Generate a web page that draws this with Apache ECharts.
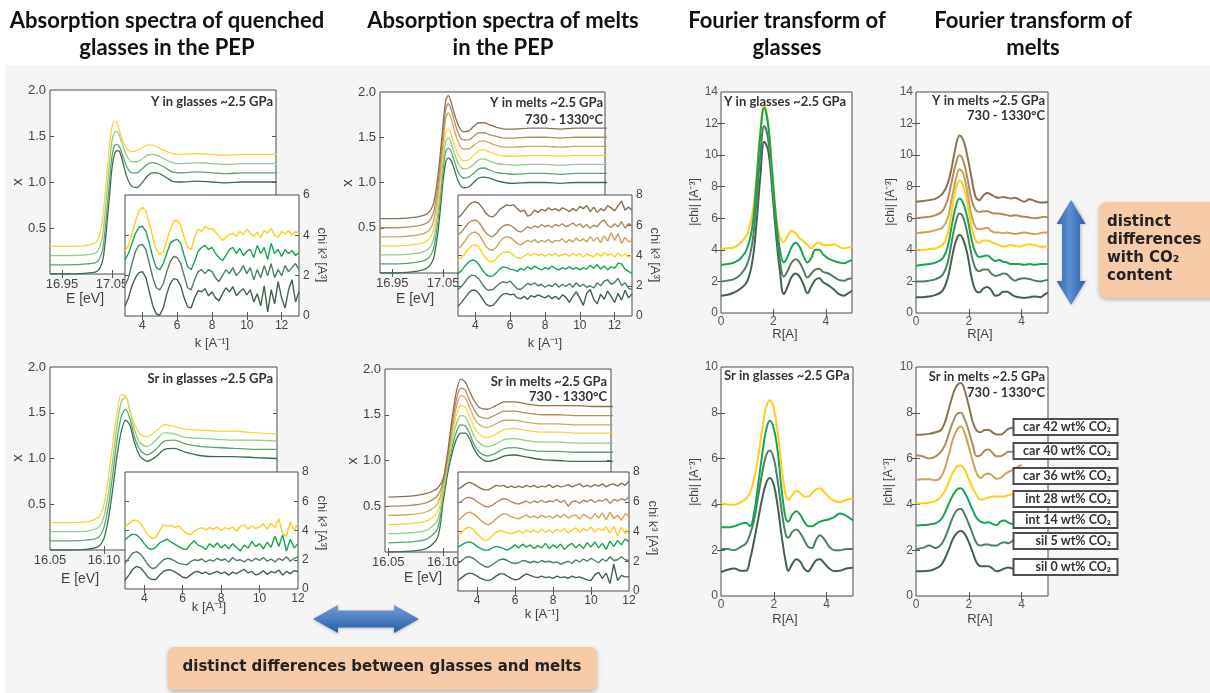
<!DOCTYPE html>
<html>
<head>
<meta charset="utf-8">
<script src="https://cdn.jsdelivr.net/npm/echarts@6.0.0/dist/echarts.min.js"></script>
<style>
html,body{margin:0;padding:0;background:#fff;}
#bg{position:absolute;left:5px;top:65px;width:1205px;height:628px;background:#f5f5f5;}
#chart{position:absolute;left:0;top:0;width:1210px;height:693px;}
</style>
</head>
<body>
<div id="bg"></div>
<div id="chart"></div>
<script>
// ---------------- DATA ----------------
// energy grids (keV, labelled eV in the figure)
const eY = [16.926,16.96,17.0,17.02,17.03,17.035,17.04,17.045,17.05,17.055,17.06,17.065,17.07,17.08,17.09,17.10,17.11,17.12,17.13,17.14,17.155,17.17,17.19,17.22,17.25,17.28,17.31,17.34,17.38];
const eSr = [16.05,16.07,16.085,16.095,16.10,16.104,16.108,16.112,16.116,16.12,16.124,16.128,16.133,16.14,16.148,16.156,16.165,16.175,16.19,16.205,16.22,16.24,16.26];
// k grids
const kY = [3.0,3.2,3.4,3.6,3.8,4.0,4.2,4.4,4.6,4.8,5.0,5.2,5.4,5.6,5.8,6.0,6.2,6.4,6.6,6.8,7.0,7.2,7.4,7.6,7.8,8.0,8.2,8.4,8.6,8.8,9.0,9.2,9.4,9.6,9.8,10.0,10.2,10.4,10.6,10.8,11.0,11.2,11.4,11.6,11.8,12.0,12.2,12.4,12.6,12.8,13.0];
const kSr = [3.0,3.2,3.4,3.6,3.8,4.0,4.2,4.4,4.6,4.8,5.0,5.2,5.4,5.6,5.8,6.0,6.2,6.4,6.6,6.8,7.0,7.2,7.4,7.6,7.8,8.0,8.2,8.4,8.6,8.8,9.0,9.2,9.4,9.6,9.8,10.0,10.2,10.4,10.6,10.8,11.0,11.2,11.4,11.6,11.8,12.0];
// R grids
const rY = [0,0.25,0.5,0.75,1.0,1.2,1.35,1.5,1.65,1.8,1.95,2.1,2.25,2.4,2.55,2.7,2.85,3.0,3.15,3.3,3.45,3.6,3.75,3.9,4.1,4.3,4.5,4.7,4.85,5.0];
const rSrG = [0,0.25,0.5,0.75,0.95,1.1,1.25,1.4,1.55,1.7,1.85,2.0,2.15,2.3,2.45,2.55,2.7,2.85,3.0,3.15,3.3,3.45,3.6,3.75,3.9,4.1,4.3,4.5,4.75,5.0];
const rSrM = [0,0.25,0.5,0.75,0.95,1.1,1.25,1.4,1.55,1.7,1.85,2.0,2.15,2.3,2.45,2.6,2.75,2.9,3.05,3.2,3.35,3.5,3.65,3.8,3.9,4.0];

// Y glasses XANES
const yGX_int28 = [0.30,0.30,0.31,0.36,0.55,0.80,1.10,1.40,1.60,1.66,1.64,1.56,1.47,1.36,1.33,1.34,1.37,1.40,1.40,1.38,1.34,1.31,1.30,1.31,1.30,1.29,1.30,1.30,1.30];
const yGX_int14 = [0.20,0.20,0.21,0.24,0.38,0.60,0.90,1.20,1.45,1.54,1.55,1.50,1.42,1.28,1.22,1.22,1.25,1.29,1.30,1.29,1.25,1.21,1.20,1.21,1.20,1.19,1.20,1.20,1.20];
const yGX_sil5 = [0.10,0.10,0.11,0.13,0.24,0.42,0.70,1.00,1.28,1.39,1.41,1.38,1.31,1.16,1.10,1.10,1.14,1.19,1.21,1.20,1.16,1.11,1.10,1.11,1.10,1.09,1.10,1.10,1.10];
const yGX_sil0 = [0.00,0.00,0.01,0.03,0.12,0.28,0.55,0.85,1.15,1.30,1.34,1.33,1.25,1.05,0.95,0.94,0.99,1.06,1.10,1.10,1.06,1.01,1.00,1.01,1.00,0.99,1.00,1.00,1.00];
// Y glasses EXAFS chi*k^3
const yGK_int28 = [3.2,3.5,4.1,4.7,5.2,5.4,5.2,4.6,3.9,3.3,3.05,3.2,3.7,4.3,4.7,4.75,4.5,3.9,3.4,3.3,3.9,4.3,4.2,4.45,4.3,4.35,4.15,3.95,3.75,3.9,4.05,4.1,3.95,4.2,4.05,4.3,4.1,3.95,4.15,3.9,4.25,4.1,4.35,4.0,3.9,4.2,4.05,4.25,4.0,4.2,4.1];
const yGK_int14 = [2.8,3.1,3.6,4.1,4.4,4.45,4.2,3.6,2.9,2.4,2.3,2.6,3.1,3.6,3.75,3.8,3.6,3.0,2.45,2.3,2.7,3.2,3.4,3.5,3.3,3.4,3.1,2.9,2.75,3.0,3.3,3.4,3.1,3.35,3.0,3.2,3.3,2.9,3.5,3.1,3.4,2.8,3.6,3.1,3.3,2.95,3.3,3.1,3.25,3.0,3.15];
const yGK_sil5 = [1.5,1.9,2.6,3.2,3.5,3.55,3.3,2.6,1.9,1.4,1.3,1.6,2.2,2.7,2.95,2.9,2.6,2.0,1.4,1.3,1.8,2.2,2.3,2.1,2.3,2.2,1.9,1.7,2.0,2.3,2.1,2.4,2.0,2.2,2.5,2.1,2.4,1.8,2.3,1.9,2.5,2.0,2.6,1.9,2.3,2.0,2.5,2.2,2.4,2.6,2.3];
const yGK_sil0 = [0.5,0.9,1.5,1.9,2.15,2.2,1.9,1.2,0.5,0.1,0.05,0.4,1.1,1.6,1.85,1.8,1.5,0.9,0.45,0.4,0.9,1.25,1.2,1.35,1.0,1.2,0.9,0.75,1.1,1.4,1.2,1.45,1.0,1.2,1.35,1.05,1.3,0.7,1.1,0.5,1.5,0.2,1.3,0.6,1.7,0.9,0.4,1.3,1.8,0.7,1.2];
// Y melts XANES
const yMX_car42 = [0.60,0.60,0.62,0.66,0.75,0.88,1.08,1.35,1.65,1.90,1.96,1.90,1.80,1.63,1.56,1.57,1.62,1.66,1.66,1.64,1.61,1.59,1.59,1.60,1.60,1.59,1.60,1.60,1.60];
const yMX_car40 = [0.50,0.50,0.52,0.56,0.65,0.78,0.98,1.25,1.55,1.80,1.87,1.82,1.72,1.54,1.47,1.47,1.51,1.55,1.55,1.53,1.51,1.49,1.49,1.50,1.50,1.49,1.50,1.50,1.50];
const yMX_car36 = [0.40,0.40,0.42,0.46,0.55,0.68,0.88,1.15,1.45,1.70,1.77,1.72,1.62,1.44,1.37,1.37,1.41,1.45,1.46,1.44,1.41,1.39,1.39,1.40,1.40,1.39,1.40,1.40,1.40];
const yMX_int28 = [0.30,0.30,0.32,0.36,0.45,0.58,0.78,1.05,1.35,1.55,1.59,1.54,1.45,1.30,1.24,1.25,1.30,1.35,1.36,1.34,1.31,1.29,1.29,1.30,1.30,1.29,1.30,1.30,1.30];
const yMX_int14 = [0.20,0.20,0.22,0.26,0.35,0.48,0.68,0.95,1.25,1.45,1.49,1.45,1.36,1.21,1.15,1.16,1.20,1.25,1.26,1.24,1.21,1.20,1.19,1.20,1.20,1.19,1.20,1.20,1.20];
const yMX_sil5 = [0.10,0.10,0.12,0.16,0.25,0.38,0.58,0.85,1.14,1.34,1.38,1.35,1.27,1.11,1.05,1.06,1.10,1.15,1.16,1.14,1.11,1.10,1.09,1.10,1.10,1.09,1.10,1.10,1.10];
const yMX_sil0 = [0.00,0.00,0.02,0.06,0.14,0.27,0.46,0.73,1.02,1.22,1.27,1.25,1.18,1.01,0.94,0.95,1.00,1.05,1.06,1.05,1.02,1.00,0.99,1.00,1.00,0.99,1.00,1.00,1.00];
// Y melts EXAFS
const yMK_car42 = [6.5,6.7,7.0,7.3,7.5,7.55,7.45,7.15,6.8,6.6,6.55,6.75,7.05,7.2,7.35,7.3,7.35,7.1,6.9,7.0,6.6,6.7,7.0,6.85,7.05,6.95,7.15,7.0,7.1,6.95,7.15,7.05,6.9,7.1,6.95,7.25,7.1,7.3,6.9,7.2,6.85,7.1,6.95,7.3,7.15,6.95,7.3,7.6,7.0,7.2,7.0];
const yMK_car40 = [5.35,5.55,5.85,6.15,6.3,6.35,6.2,5.85,5.5,5.3,5.25,5.45,5.75,5.95,6.05,6.0,5.85,5.65,5.55,5.7,5.9,5.8,5.95,5.85,6.05,5.9,6.0,5.85,6.05,5.95,6.1,5.9,6.0,6.15,5.95,6.1,5.85,6.05,5.8,6.0,5.9,6.2,6.35,6.0,5.85,6.1,5.9,6.25,5.8,6.1,6.0];
const yMK_car36 = [4.45,4.65,4.95,5.3,5.5,5.55,5.4,5.0,4.6,4.4,4.35,4.55,4.9,5.15,5.25,5.2,5.0,4.8,4.7,4.85,5.0,4.9,5.05,4.85,5.0,4.9,5.05,4.85,5.0,4.95,5.1,4.85,5.05,4.9,5.15,4.95,5.1,4.9,5.25,4.95,5.2,4.85,5.3,4.95,5.5,5.0,5.45,4.8,5.2,4.9,5.0];
const yMK_int28 = [3.7,3.85,4.1,4.45,4.65,4.7,4.55,4.15,3.8,3.6,3.6,3.8,4.05,4.2,4.25,4.2,4.0,3.85,3.8,3.95,4.1,4.0,4.15,4.0,4.1,3.95,4.1,4.0,4.15,3.95,4.05,4.1,3.95,4.15,4.0,4.1,3.9,4.1,4.0,3.9,4.15,3.95,4.2,4.0,4.1,3.9,4.15,3.95,4.1,3.9,4.05];
const yMK_int14 = [2.8,3.0,3.3,3.55,3.7,3.65,3.4,3.05,2.75,2.6,2.65,2.85,3.1,3.25,3.2,3.1,3.05,2.95,3.15,3.05,3.25,3.1,3.3,3.15,3.05,3.2,3.1,3.3,3.15,3.05,3.2,3.1,3.25,3.1,3.2,3.05,3.2,3.1,3.35,3.15,3.4,3.1,3.3,3.05,3.25,3.15,3.5,3.45,3.1,2.95,2.8];
const yMK_sil5 = [1.75,1.95,2.25,2.55,2.7,2.65,2.45,2.1,1.8,1.7,1.75,1.95,2.15,2.25,2.2,2.3,2.05,1.8,1.75,1.95,2.15,2.05,2.2,2.0,2.1,1.9,2.05,1.95,2.15,1.9,2.1,1.95,2.15,1.9,2.2,1.95,2.1,1.9,2.0,1.85,2.2,2.0,2.3,2.4,2.1,2.2,2.5,2.0,2.2,1.85,1.75];
const yMK_sil0 = [0.65,0.9,1.2,1.5,1.7,1.7,1.5,1.15,0.8,0.65,0.7,0.95,1.25,1.45,1.5,1.4,1.45,1.2,1.15,1.3,1.1,1.35,1.25,1.4,1.3,1.2,1.35,1.15,1.3,1.1,1.4,1.25,0.9,1.3,1.6,1.2,0.7,1.5,1.75,1.1,0.8,1.45,1.1,1.65,1.3,0.9,1.5,1.05,1.7,1.2,1.45];
// Y glasses FT
const yGF_int28 = [4.05,4.1,4.15,4.45,5.0,6.3,8.6,11.6,13.2,12.0,9.0,6.3,4.8,4.5,4.9,5.2,5.05,4.75,4.55,4.3,4.1,4.35,4.45,4.3,4.3,4.35,4.2,4.1,4.15,4.2];
const yGF_int14 = [3.05,3.1,3.2,3.45,4.1,5.5,8.2,11.3,13.0,11.9,9.0,6.0,4.0,3.2,3.6,4.2,4.45,4.2,3.6,3.2,3.5,4.0,4.0,3.7,3.45,3.3,3.2,3.15,3.25,3.35];
const yGF_sil5 = [2.0,2.05,2.15,2.45,3.1,4.5,7.0,10.0,11.85,11.0,8.4,5.5,3.3,2.3,2.7,3.2,3.4,3.2,2.7,2.25,2.5,2.75,2.8,2.6,2.5,2.3,2.1,2.05,2.15,2.2];
const yGF_sil0 = [1.1,1.15,1.3,1.55,2.0,3.3,5.6,8.6,10.85,10.3,7.9,5.0,2.6,1.2,1.7,2.3,2.5,2.3,1.8,1.25,1.7,2.1,2.2,1.95,1.75,1.5,1.2,1.1,1.25,1.4];
// Y melts FT
const yMF_car42 = [7.05,7.1,7.15,7.25,7.55,8.2,9.2,10.5,11.25,10.9,9.9,8.6,7.4,7.15,7.45,7.6,7.5,7.35,7.3,7.35,7.3,7.25,7.3,7.2,7.05,7.2,7.1,7.0,7.0,7.05];
const yMF_car40 = [6.0,6.05,6.1,6.2,6.45,7.2,8.3,9.4,10.0,9.6,8.5,7.2,6.55,6.4,6.45,6.45,6.35,6.3,6.3,6.25,6.2,6.15,6.2,6.15,6.1,6.05,6.0,6.05,6.1,6.05];
const yMF_car36 = [5.05,5.1,5.15,5.25,5.4,6.0,7.2,8.4,9.1,8.8,7.6,6.2,5.45,5.3,5.35,5.4,5.2,5.1,5.1,5.05,5.1,5.05,5.0,5.05,5.1,5.05,5.0,5.05,5.1,5.1];
const yMF_int28 = [4.0,4.0,4.05,4.1,4.3,5.0,6.4,7.8,8.4,8.0,6.9,5.5,4.6,4.45,4.6,4.6,4.5,4.4,4.3,4.2,4.25,4.3,4.25,4.2,4.3,4.35,4.3,4.2,4.2,4.25];
const yMF_int14 = [3.0,3.05,3.1,3.2,3.45,4.2,5.5,6.7,7.25,6.9,6.0,4.7,3.85,3.55,3.6,3.65,3.45,3.3,3.35,3.25,3.2,3.1,3.1,3.1,3.05,3.1,3.05,3.1,3.1,3.1];
const yMF_sil5 = [2.0,2.0,2.05,2.15,2.4,3.2,4.5,5.7,6.3,6.0,5.0,3.7,2.85,2.65,2.75,2.75,2.5,2.35,2.4,2.5,2.45,2.2,2.05,2.15,2.2,2.15,2.05,2.0,2.05,2.1];
const yMF_sil0 = [1.0,1.0,1.05,1.15,1.4,2.2,3.4,4.5,4.95,4.6,3.7,2.3,1.45,1.3,1.55,1.65,1.45,1.1,1.15,1.35,1.35,1.2,1.05,1.0,0.95,1.0,1.05,1.0,1.15,1.3];
// Sr glasses XANES
const srGX_int28 = [0.30,0.30,0.31,0.36,0.50,0.80,1.15,1.50,1.70,1.68,1.52,1.38,1.27,1.24,1.30,1.37,1.35,1.32,1.31,1.30,1.30,1.28,1.27];
const srGX_int14 = [0.20,0.20,0.21,0.25,0.37,0.62,0.98,1.36,1.62,1.67,1.52,1.32,1.18,1.13,1.20,1.28,1.27,1.23,1.22,1.21,1.20,1.20,1.19];
const srGX_sil5 = [0.10,0.10,0.11,0.14,0.25,0.48,0.82,1.20,1.46,1.54,1.43,1.24,1.10,1.04,1.10,1.19,1.20,1.16,1.13,1.12,1.11,1.10,1.10];
const srGX_sil0 = [0.00,0.00,0.01,0.04,0.13,0.34,0.66,1.03,1.30,1.42,1.36,1.18,1.03,0.97,1.02,1.10,1.11,1.07,1.03,1.02,1.02,1.01,1.00];
// Sr glasses EXAFS
const srGK_int28 = [4.25,4.45,4.7,4.7,4.5,4.1,3.7,3.45,3.5,4.0,4.4,4.3,4.35,4.2,4.3,4.05,3.8,3.7,3.95,4.1,4.2,4.05,4.2,4.1,4.25,4.0,4.2,4.1,4.25,3.95,4.3,4.4,4.1,4.3,4.15,4.25,4.45,4.1,4.5,4.2,4.8,3.8,3.6,4.6,4.0,4.5];
const srGK_int14 = [3.35,3.6,3.75,3.7,3.45,3.1,2.8,2.7,2.85,3.15,3.3,3.4,3.2,3.05,2.9,2.75,2.7,3.05,3.3,3.0,2.9,2.7,3.1,2.85,3.15,2.8,3.05,2.75,3.1,2.85,2.6,3.0,2.8,3.25,2.9,3.1,2.75,3.2,2.85,3.6,2.9,3.7,2.6,3.4,2.8,3.1];
const srGK_sil5 = [1.75,2.1,2.45,2.55,2.4,2.05,1.65,1.4,1.45,1.75,2.0,2.1,2.05,1.9,1.75,1.7,1.65,1.85,2.0,1.95,2.05,1.85,2.0,1.9,2.1,1.95,2.05,1.85,2.15,1.95,2.0,1.85,2.05,1.9,2.1,1.95,2.15,1.9,2.05,1.85,2.1,1.95,2.2,1.9,2.1,2.2];
const srGK_sil0 = [0.6,0.95,1.35,1.55,1.45,1.15,0.8,0.65,0.65,0.95,1.2,1.3,1.3,1.15,1.0,0.8,0.75,0.95,1.15,1.2,1.05,1.15,1.0,1.1,1.2,1.05,1.15,0.95,1.15,1.05,1.2,1.35,1.1,1.2,0.95,1.05,1.25,1.0,1.2,1.1,1.3,0.95,1.2,1.05,1.25,1.2];
// Sr melts XANES
const srMX_car42 = [0.60,0.61,0.64,0.70,0.80,1.08,1.45,1.75,1.89,1.86,1.76,1.66,1.58,1.56,1.60,1.64,1.64,1.62,1.60,1.60,1.60,1.59,1.59];
const srMX_car40 = [0.50,0.51,0.54,0.62,0.77,1.04,1.38,1.66,1.79,1.77,1.66,1.56,1.48,1.46,1.50,1.54,1.54,1.52,1.50,1.50,1.49,1.49,1.49];
const srMX_car36 = [0.40,0.41,0.44,0.53,0.74,1.00,1.32,1.58,1.71,1.69,1.58,1.47,1.39,1.36,1.40,1.44,1.44,1.42,1.40,1.40,1.39,1.39,1.39];
const srMX_int28 = [0.30,0.31,0.34,0.44,0.70,0.97,1.26,1.49,1.60,1.58,1.48,1.37,1.29,1.25,1.29,1.34,1.35,1.33,1.31,1.31,1.30,1.30,1.30];
const srMX_int14 = [0.20,0.21,0.24,0.35,0.66,0.94,1.20,1.40,1.49,1.48,1.39,1.27,1.19,1.15,1.18,1.23,1.24,1.22,1.20,1.20,1.19,1.19,1.19];
const srMX_sil5 = [0.10,0.11,0.14,0.26,0.62,0.90,1.13,1.31,1.39,1.38,1.30,1.18,1.09,1.05,1.08,1.13,1.14,1.12,1.10,1.10,1.09,1.09,1.09];
const srMX_sil0 = [0.00,0.01,0.04,0.16,0.55,0.85,1.07,1.23,1.30,1.30,1.24,1.13,1.04,0.99,1.01,1.05,1.06,1.04,1.01,1.00,0.99,0.99,0.99];
// Sr melts EXAFS
const srMK_car42 = [6.85,7.0,7.2,7.3,7.2,7.05,6.9,6.8,6.8,6.95,7.1,7.05,7.1,6.95,7.05,6.95,7.05,6.95,7.1,7.0,7.1,6.95,7.05,7.0,7.15,6.95,7.1,7.0,7.05,7.15,7.0,7.1,7.2,7.0,7.1,7.0,7.15,7.05,7.2,7.0,7.15,7.2,7.05,7.25,7.1,7.4];
const srMK_car40 = [5.9,6.05,6.25,6.3,6.2,6.0,5.85,5.7,5.65,5.75,5.95,6.1,6.2,6.15,6.0,5.9,5.85,5.95,6.05,5.9,6.05,5.95,6.1,5.95,6.05,6.0,6.15,5.95,6.1,5.7,6.0,6.05,5.9,6.1,6.0,6.15,5.95,6.1,6.05,6.2,5.9,6.15,6.05,6.2,6.1,6.35];
const srMK_car36 = [4.75,4.95,5.2,5.3,5.2,5.0,4.75,4.55,4.45,4.6,4.85,5.05,5.2,5.15,5.0,4.9,4.85,5.0,5.1,4.95,5.05,4.9,5.1,4.95,5.05,4.9,5.1,4.95,5.15,4.9,5.05,5.1,4.85,5.15,5.0,4.85,5.2,4.9,5.25,4.8,5.3,4.85,5.1,4.75,5.2,5.0];
const srMK_int28 = [3.75,3.95,4.2,4.3,4.15,3.85,3.6,3.4,3.45,3.7,3.95,4.05,4.0,3.9,3.85,3.95,4.05,3.9,4.1,3.95,4.1,3.9,4.15,3.95,4.1,3.9,4.15,4.0,4.2,3.9,4.1,4.25,3.95,4.2,4.05,4.3,3.95,4.2,4.05,4.3,3.9,4.35,3.7,4.3,3.85,4.2];
const srMK_int14 = [2.95,3.1,3.25,3.3,3.2,3.0,2.85,2.75,2.75,2.9,3.0,2.95,2.85,2.75,2.9,3.1,2.9,3.15,2.95,3.1,2.85,3.05,2.9,3.2,2.85,3.1,2.9,3.15,2.8,3.05,3.2,2.9,3.15,2.85,3.25,2.95,3.3,2.9,3.2,2.8,3.35,3.0,3.4,3.1,3.5,3.3];
const srMK_sil5 = [1.85,2.05,2.25,2.3,2.2,2.0,1.8,1.65,1.6,1.75,1.95,2.1,2.15,2.05,1.9,1.85,1.9,2.05,2.0,1.9,2.0,1.9,2.05,1.95,2.0,1.9,1.95,1.8,1.9,2.0,1.85,2.1,1.95,2.15,2.0,2.2,2.05,1.9,2.15,2.0,2.3,2.05,2.1,2.3,2.1,2.05];
const srMK_sil0 = [0.7,0.9,1.1,1.2,1.15,1.0,0.85,0.75,0.7,0.8,1.0,1.15,1.15,1.0,0.85,0.75,0.8,1.0,1.15,1.05,0.95,0.9,1.0,0.9,0.95,0.85,1.0,0.9,0.95,0.85,1.0,0.9,0.95,0.85,0.75,0.7,1.1,1.25,0.85,1.2,0.5,1.8,0.7,1.05,0.95,0.95];
// Sr glasses FT
const srGF_int28 = [4.05,4.0,3.98,4.1,4.25,4.5,5.1,6.0,7.2,8.2,8.55,8.2,7.1,5.6,4.4,4.2,4.4,4.6,4.5,4.35,4.35,4.5,4.65,4.7,4.55,4.3,4.15,4.1,4.2,4.25];
const srGF_int14 = [3.0,3.0,3.05,3.15,3.2,3.05,3.6,4.8,6.1,7.2,7.65,7.3,6.3,4.6,3.4,3.25,3.55,3.7,3.55,3.25,3.05,3.05,3.15,3.25,3.3,3.35,3.45,3.6,3.5,3.3];
const srGF_sil5 = [2.05,2.05,2.0,2.15,2.3,2.7,3.3,4.3,5.3,6.1,6.35,6.0,5.0,3.7,2.7,2.55,2.8,2.9,2.75,2.45,2.15,2.1,2.45,2.65,2.5,2.15,2.0,2.0,2.05,2.05];
const srGF_sil0 = [1.05,1.15,1.2,1.1,1.1,1.6,2.4,3.3,4.2,4.9,5.15,4.85,3.9,2.6,1.5,1.1,1.4,1.6,1.5,1.2,1.08,1.3,1.55,1.6,1.45,1.2,1.08,1.1,1.2,1.23];
// Sr melts FT
const srMF_car42 = [7.04,7.05,7.08,7.15,7.25,7.6,8.2,8.8,9.2,9.3,8.95,8.3,7.6,7.22,7.15,7.25,7.25,7.15,7.05,7.05,7.15,7.3,7.35,7.4,7.45,7.5];
const srMF_car40 = [6.15,6.1,6.0,6.1,6.3,6.6,7.1,7.6,7.95,8.0,7.7,7.2,6.6,6.1,6.15,6.35,6.4,6.25,6.1,6.1,6.2,6.3,6.3,6.25,6.25,6.3];
const srMF_car36 = [5.07,5.1,5.1,5.05,5.2,5.6,6.2,6.85,7.25,7.4,7.1,6.5,5.9,5.35,5.15,5.3,5.35,5.25,5.12,5.15,5.3,5.42,5.5,5.6,5.67,5.72];
const srMF_int28 = [4.04,4.05,4.07,4.15,4.35,4.6,5.0,5.4,5.65,5.7,5.5,5.1,4.7,4.4,4.2,4.25,4.3,4.35,4.35,4.35,4.35,4.4,4.45,4.5,4.55,4.6];
const srMF_int14 = [3.08,3.1,3.12,3.18,3.35,3.65,4.05,4.4,4.65,4.7,4.5,4.15,3.75,3.4,3.25,3.2,3.22,3.15,3.1,3.25,3.3,3.2,3.15,3.25,3.3,3.3];
const srMF_sil5 = [2.04,2.1,2.2,2.1,2.25,2.55,3.0,3.45,3.75,3.8,3.55,3.15,2.7,2.3,2.2,2.25,2.25,2.2,2.2,2.3,2.35,2.3,2.4,2.5,2.55,2.6];
const srMF_sil0 = [1.08,1.08,1.1,1.2,1.35,1.65,2.05,2.5,2.75,2.85,2.7,2.35,1.9,1.45,1.3,1.3,1.3,1.2,1.08,1.12,1.2,1.25,1.2,1.15,1.15,1.2];

// tick labels
const tickXanesY = [0.5,1.0,1.5,2.0];
const tickEY = [16.95,17.05];
const tickESr = [16.05,16.10];
const tickK = [4,6,8,10,12];
const tickR = [0,2,4];
const legendLabels = ['car 42 wt% CO₂','car 40 wt% CO₂','car 36 wt% CO₂','int 28 wt% CO₂','int 14 wt% CO₂','sil 5 wt% CO₂','sil 0 wt% CO₂'];

// ---------------- STYLE / LAYOUT ----------------
const C  = {car42:'#8a7352', car40:'#ad8b5d', car36:'#cfa257', int28:'#ffcd1c', int14:'#14a552', sil5:'#4c8062', sil0:'#41624f'};
const CX = {car42:'#8a7352', car40:'#b28f60', car36:'#d3a660', int28:'#f8d440', int14:'#90cf7f', sil5:'#58a46c', sil0:'#3f6b51'};
const TICKF = 'Liberation Sans, Arial, sans-serif';
const TITLEF = 'Lato, "Open Sans", sans-serif';

const panels = [
 {box:[50,90,226,184], kind:'xanes', xr:[16.926,17.378], xt:[16.95,17.05,17.15,17.25,17.35], xl:tickEY, yr:[0,2], yt:[0.5,1,1.5], yl:tickXanesY},
 {box:[125,195,174,121], kind:'inset', xr:[3,13], xt:tickK, xl:tickK, yr:[0,6], yt:[2,4], yl:[0,2,4,6]},
 {box:[380,92,225,181], kind:'xanes', xr:[16.926,17.368], xt:[16.95,17.05,17.15,17.25,17.35], xl:tickEY, yr:[0,2], yt:[0.5,1,1.5], yl:tickXanesY},
 {box:[458,195,174,121], kind:'inset', xr:[3,13], xt:tickK, xl:tickK, yr:[0,8], yt:[2,4,6], yl:[0,2,4,6,8]},
 {box:[721,92,131,221], kind:'ft', xr:[0,5], xt:[2,4], xl:tickR, yr:[0,14], yt:[2,4,6,8,10,12], yl:[0,2,4,6,8,10,12,14]},
 {box:[916,92,132,221], kind:'ft', xr:[0,5], xt:[2,4], xl:tickR, yr:[0,14], yt:[2,4,6,8,10,12], yl:[0,2,4,6,8,10,12,14]},
 {box:[50,367,227,183], kind:'xanes', xr:[16.05,16.26], xt:[16.10,16.15,16.20,16.25], xl:tickESr, yr:[0,2], yt:[0.5,1,1.5], yl:tickXanesY},
 {box:[125,472,173,117], kind:'inset', xr:[3,12], xt:[4,6,8,10], xl:tickK, yr:[0,8], yt:[2,4,6], yl:[0,2,4,6,8]},
 {box:[385,369,226,183], kind:'xanes', xr:[16.047,16.253], xt:[16.05,16.10,16.15,16.20,16.25], xl:tickESr, yr:[0,2], yt:[0.5,1,1.5], yl:tickXanesY},
 {box:[458,472,171,119], kind:'inset', xr:[3,12], xt:[4,6,8,10], xl:tickK, yr:[0,8], yt:[2,4,6], yl:[0,2,4,6,8]},
 {box:[721,367,132,229], kind:'ft', xr:[0,5], xt:[2,4], xl:tickR, yr:[0,10], yt:[2,4,6,8], yl:[0,2,4,6,8,10]},
 {box:[916,367,132,229], kind:'ft', xr:[0,5], xt:[2,4], xl:tickR, yr:[0,10], yt:[2,4,6,8], yl:[0,2,4,6,8,10]}
];
const labelStyle = {xanes:{fs:13,col:'#444',m:4}, inset:{fs:12,col:'#444',m:4}, ft:{fs:12,col:'#555',m:3}};

const option = {animation:false, backgroundColor:'transparent', grid:[], xAxis:[], yAxis:[], series:[], graphic:[]};

function fmt(kind, dim){
  if (kind==='xanes') return dim==='x' ? (v=>Number(v).toFixed(2)) : (v=>Number(v).toFixed(1));
  return v=>String(Math.round(v));
}
function mkAxis(gi, dim, pos, p, labeled, z){
  const r = dim==='x' ? p.xr : p.yr;
  const st = labelStyle[p.kind];
  return {
    type:'value', gridIndex:gi, position:pos, min:r[0], max:r[1], z:z,
    axisLine:{show:false}, splitLine:{show:false},
    axisTick:{show:true, inside:true, length:4, lineStyle:{color:'#555',width:1}, customValues: dim==='x'?p.xt:p.yt},
    axisLabel: labeled ? {show:true, customValues: dim==='x'?p.xl:p.yl, fontSize:st.fs, color:st.col, fontFamily:TICKF, margin:st.m, formatter:fmt(p.kind,dim)} : {show:false}
  };
}
panels.forEach((p,gi)=>{
  const inset = p.kind==='inset';
  const zg = inset?5:0, za = inset?6:0;
  option.grid.push({left:p.box[0], top:p.box[1], width:p.box[2], height:p.box[3], show:true, backgroundColor:'#fff', borderColor:'#4a4a4a', borderWidth:1, z:zg});
  option.xAxis.push(mkAxis(gi,'x','bottom',p,true,za));
  option.xAxis.push(mkAxis(gi,'x','top',p,false,za));
  option.yAxis.push(mkAxis(gi,'y','left', p, !inset, za));
  option.yAxis.push(mkAxis(gi,'y','right',p, inset, za));
});

function addLine(gi, xs, ys, color, width, smooth){
  const inset = panels[gi].kind==='inset';
  option.series.push({type:'line', xAxisIndex:2*gi, yAxisIndex:2*gi, data:xs.map((v,i)=>[v,ys[i]]),
    symbol:'none', showSymbol:false, smooth:smooth, lineStyle:{color:color,width:width}, itemStyle:{color:color},
    z: inset?7:2, silent:true, clip:true});
}
// P1 Y glasses XANES
addLine(0,eY,yGX_sil0,CX.sil0,1.3,0.3); addLine(0,eY,yGX_sil5,CX.sil5,1.3,0.3); addLine(0,eY,yGX_int14,CX.int14,1.3,0.3); addLine(0,eY,yGX_int28,CX.int28,1.3,0.3);
// I1
addLine(1,kY,yGK_sil0,C.sil0,1.4,false); addLine(1,kY,yGK_sil5,C.sil5,1.4,false); addLine(1,kY,yGK_int14,C.int14,1.4,false); addLine(1,kY,yGK_int28,C.int28,1.4,false);
// P2 Y melts XANES
addLine(2,eY,yMX_sil0,CX.sil0,1.3,0.3); addLine(2,eY,yMX_sil5,CX.sil5,1.3,0.3); addLine(2,eY,yMX_int14,CX.int14,1.3,0.3); addLine(2,eY,yMX_int28,CX.int28,1.3,0.3);
addLine(2,eY,yMX_car36,CX.car36,1.3,0.3); addLine(2,eY,yMX_car40,CX.car40,1.3,0.3); addLine(2,eY,yMX_car42,CX.car42,1.3,0.3);
// I2
addLine(3,kY,yMK_sil0,C.sil0,1.4,false); addLine(3,kY,yMK_sil5,C.sil5,1.4,false); addLine(3,kY,yMK_int14,C.int14,1.4,false); addLine(3,kY,yMK_int28,C.int28,1.4,false);
addLine(3,kY,yMK_car36,C.car36,1.4,false); addLine(3,kY,yMK_car40,C.car40,1.4,false); addLine(3,kY,yMK_car42,C.car42,1.4,false);
// P3 Y glasses FT
addLine(4,rY,yGF_sil0,C.sil0,2,0.4); addLine(4,rY,yGF_sil5,C.sil5,2,0.4); addLine(4,rY,yGF_int28,C.int28,2,0.4); addLine(4,rY,yGF_int14,C.int14,2,0.4);
// P4 Y melts FT
addLine(5,rY,yMF_sil0,C.sil0,2,0.4); addLine(5,rY,yMF_sil5,C.sil5,2,0.4); addLine(5,rY,yMF_int14,C.int14,2,0.4); addLine(5,rY,yMF_int28,C.int28,2,0.4);
addLine(5,rY,yMF_car36,C.car36,2,0.4); addLine(5,rY,yMF_car40,C.car40,2,0.4); addLine(5,rY,yMF_car42,C.car42,2,0.4);
// P5 Sr glasses XANES
addLine(6,eSr,srGX_sil0,CX.sil0,1.3,0.3); addLine(6,eSr,srGX_sil5,CX.sil5,1.3,0.3); addLine(6,eSr,srGX_int14,CX.int14,1.3,0.3); addLine(6,eSr,srGX_int28,CX.int28,1.3,0.3);
// I5
addLine(7,kSr,srGK_sil0,C.sil0,1.4,false); addLine(7,kSr,srGK_sil5,C.sil5,1.4,false); addLine(7,kSr,srGK_int14,C.int14,1.4,false); addLine(7,kSr,srGK_int28,C.int28,1.4,false);
// P6 Sr melts XANES
addLine(8,eSr,srMX_sil0,CX.sil0,1.3,0.3); addLine(8,eSr,srMX_sil5,CX.sil5,1.3,0.3); addLine(8,eSr,srMX_int14,CX.int14,1.3,0.3); addLine(8,eSr,srMX_int28,CX.int28,1.3,0.3);
addLine(8,eSr,srMX_car36,CX.car36,1.3,0.3); addLine(8,eSr,srMX_car40,CX.car40,1.3,0.3); addLine(8,eSr,srMX_car42,CX.car42,1.3,0.3);
// I6
addLine(9,kSr,srMK_sil0,C.sil0,1.4,false); addLine(9,kSr,srMK_sil5,C.sil5,1.4,false); addLine(9,kSr,srMK_int14,C.int14,1.4,false); addLine(9,kSr,srMK_int28,C.int28,1.4,false);
addLine(9,kSr,srMK_car36,C.car36,1.4,false); addLine(9,kSr,srMK_car40,C.car40,1.4,false); addLine(9,kSr,srMK_car42,C.car42,1.4,false);
// P7 Sr glasses FT
addLine(10,rSrG,srGF_sil0,C.sil0,2,0.4); addLine(10,rSrG,srGF_sil5,C.sil5,2,0.4); addLine(10,rSrG,srGF_int14,C.int14,2,0.4); addLine(10,rSrG,srGF_int28,C.int28,2,0.4);
// P8 Sr melts FT
addLine(11,rSrM,srMF_sil0,C.sil0,2,0.4); addLine(11,rSrM,srMF_sil5,C.sil5,2,0.4); addLine(11,rSrM,srMF_int14,C.int14,2,0.4); addLine(11,rSrM,srMF_int28,C.int28,2,0.4);
addLine(11,rSrM,srMF_car36,C.car36,2,0.4); addLine(11,rSrM,srMF_car40,C.car40,2,0.4); addLine(11,rSrM,srMF_car42,C.car42,2,0.4);

// ---------------- TEXT & DECORATIONS ----------------
const G = option.graphic;
function txt(t, x, y, o){
  o = o || {};
  G.push({type:'text', x:x, y:y, rotation:o.rot||0, z:20, silent:true,
    style:{text:t, fill:o.fill||'#333', fontSize:o.fs||12, fontWeight:o.fw||'normal', fontFamily:o.ff||TICKF,
      align:o.al||'center', verticalAlign:'middle', textAlign:o.al||'center', textVerticalAlign:'middle'}});
}
// column headings
[['Absorption spectra of quenched',167,21],['glasses in the PEP',167,48],['Absorption spectra of melts',503,21],['in the PEP',503,48],
 ['Fourier transform of',787,21],['glasses',787,48],['Fourier transform of',1033,21],['melts',1033,48]]
 .forEach(a=>txt(a[0],a[1],a[2],{fs:22,fw:'bold',ff:TITLEF,fill:'#111'}));
// in-panel titles
[['Y in glasses ~2.5 GPa','right',273,102],['Y in melts ~2.5 GPa','right',603,103],['730 - 1330°C','right',603,120],
 ['Y in glasses ~2.5 GPa','left',724,102],['Y in melts ~2.5 GPa','right',1045,101],['730 - 1330°C','right',1045,116],
 ['Sr in glasses ~2.5 GPa','right',273,379],['Sr in melts ~2.5 GPa','right',607,382],['730 - 1330°C','right',607,397],
 ['Sr in glasses ~2.5 GPa','left',724,376],['Sr in melts ~2.5 GPa','right',1045,377],['730 - 1330°C','right',1045,393]]
 .forEach(a=>txt(a[0],a[2],a[3],{al:a[1],fs:13,fw:'bold',ff:TITLEF,fill:'#333'}));
// axis names
const R90 = Math.PI/2;
[['x',18,182,R90,15],['E [eV]',85,299,0,14],['k [A⁻¹]',212,343,0,13],['chi k³ [A³]',322,255,-R90,13],
 ['x',348,183,R90,15],['E [eV]',415,299,0,14],['k [A⁻¹]',545,343,0,13],['chi k³ [A³]',655,255,-R90,13],
 ['|chi| [A⁻³]',695,202,R90,12],['R[A]',785,334,0,13],['|chi| [A⁻³]',891,202,R90,12],['R[A]',980,334,0,13],
 ['x',18,458,R90,15],['E [eV]',80,579,0,14],['k [A⁻¹]',209,607,0,13],['chi k³ [A³]',322,523,-R90,13],
 ['x',353,461,R90,15],['E [eV]',423,578,0,14],['k [A⁻¹]',542,614,0,13],['chi k³ [A³]',653,528,-R90,13],
 ['|chi| [A⁻³]',695,482,R90,12],['R[A]',785,619,0,13],['|chi| [A⁻³]',889,482,R90,12],['R[A]',980,619,0,13]]
 .forEach(a=>txt(a[0],a[1],a[2],{rot:a[3],fs:a[4],fill:'#444'}));

// arrows
G.push({type:'polygon', z:15, silent:true,
  shape:{points:[[313,619],[338,605],[338,610.5],[394,610.5],[394,605],[419,619],[394,633],[394,627.5],[338,627.5],[338,633]]},
  style:{fill:new echarts.graphic.LinearGradient(0,0,0,1,[{offset:0,color:'#6f9dd8'},{offset:0.5,color:'#4a7ec3'},{offset:1,color:'#2c5d9c'}]),
    shadowBlur:3, shadowColor:'rgba(0,0,0,0.25)', shadowOffsetY:1}});
G.push({type:'polygon', z:15, silent:true,
  shape:{points:[[1071,200],[1085.5,224],[1080,224],[1080,281],[1085.5,281],[1071,305],[1056.5,281],[1062,281],[1062,224],[1056.5,224]]},
  style:{fill:new echarts.graphic.LinearGradient(0,0,1,0,[{offset:0,color:'#3468ae'},{offset:0.45,color:'#5c90d3'},{offset:1,color:'#2d5f9f'}]),
    shadowBlur:3, shadowColor:'rgba(0,0,0,0.25)', shadowOffsetX:1}});
// peach boxes
G.push({type:'rect', z:15, silent:true, shape:{x:1099,y:202,width:125,height:96,r:8},
  style:{fill:'#f6cba8', shadowBlur:4, shadowColor:'rgba(0,0,0,0.25)', shadowOffsetY:2}});
G.push({type:'rect', z:15, silent:true, shape:{x:168,y:647,width:429,height:43,r:6},
  style:{fill:'#f6cba8', shadowBlur:4, shadowColor:'rgba(0,0,0,0.25)', shadowOffsetY:2}});
const ANNF = '"DejaVu Sans", Verdana, sans-serif';
[['distinct',222],['differences',240],['with CO₂',258],['content',276]].forEach(a=>txt(a[0],1107,a[1],{al:'left',fs:15,fw:'bold',ff:ANNF,fill:'#222'}));
txt('distinct differences between glasses and melts',382,667,{fs:15,fw:'bold',ff:ANNF,fill:'#222'});
// legend boxes in the Sr melts FT panel
const legTops = [419,443,468,491,512,533,559];
legendLabels.forEach((l,i)=>{
  G.push({type:'rect', z:18, silent:true, shape:{x:1013.5,y:legTops[i],width:104,height:16}, style:{fill:'#fff', stroke:'#4d4d4d', lineWidth:2}});
  txt(l,1111,legTops[i]+8,{al:'right',fs:12.5,fw:'bold',ff:TITLEF,fill:'#333'});
});

const chart = echarts.init(document.getElementById('chart'), null, {renderer:'canvas'});
chart.setOption(option);
</script>
</body>
</html>
